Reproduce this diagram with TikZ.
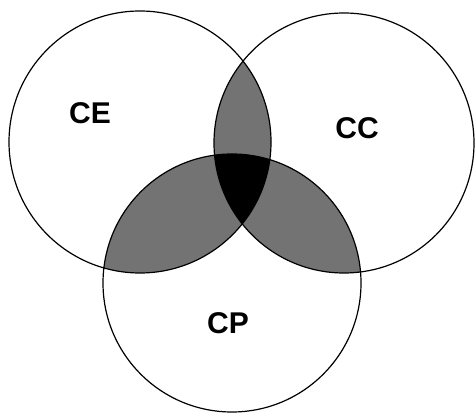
\documentclass[tikz,border=0pt]{standalone}
\usepackage{fontspec}
\setmainfont{Liberation Sans}
\usepackage{tikz}
\usetikzlibrary{positioning}

% the three sets
\newcommand{\setCE}{(140,142) circle[radius=131pt]}
\newcommand{\setCC}{(344,143) circle[radius=130pt]}
\newcommand{\setCP}{(232,283) circle[radius=129pt]}

\begin{document}
\begin{tikzpicture}[
  x=1pt, y=-1pt,
  ring/.style={draw=black, line width=1.2pt},
  lens/.style={fill=black!55},
  core/.style={fill=black},
  setname/.style={font=\fontsize{30}{36}\selectfont\bfseries, inner sep=0pt}
]
\useasboundingbox (0,0) rectangle (476,414);

% pairwise overlaps
\begin{scope}
  \clip \setCE;
  \fill[lens] \setCC;
  \fill[lens] \setCP;
\end{scope}
\begin{scope}
  \clip \setCC;
  \fill[lens] \setCP;
\end{scope}

% all three
\begin{scope}
  \clip \setCE;
  \clip \setCC;
  \fill[core] \setCP;
\end{scope}

\draw[ring] \setCE;
\draw[ring] \setCC;
\draw[ring] \setCP;

\node[setname] (ce) at (90,113) {CE};
\node[setname] (cc) at (357,128) {CC};
\node[setname] (cp) at (228,323) {CP};

\end{tikzpicture}
\end{document}
